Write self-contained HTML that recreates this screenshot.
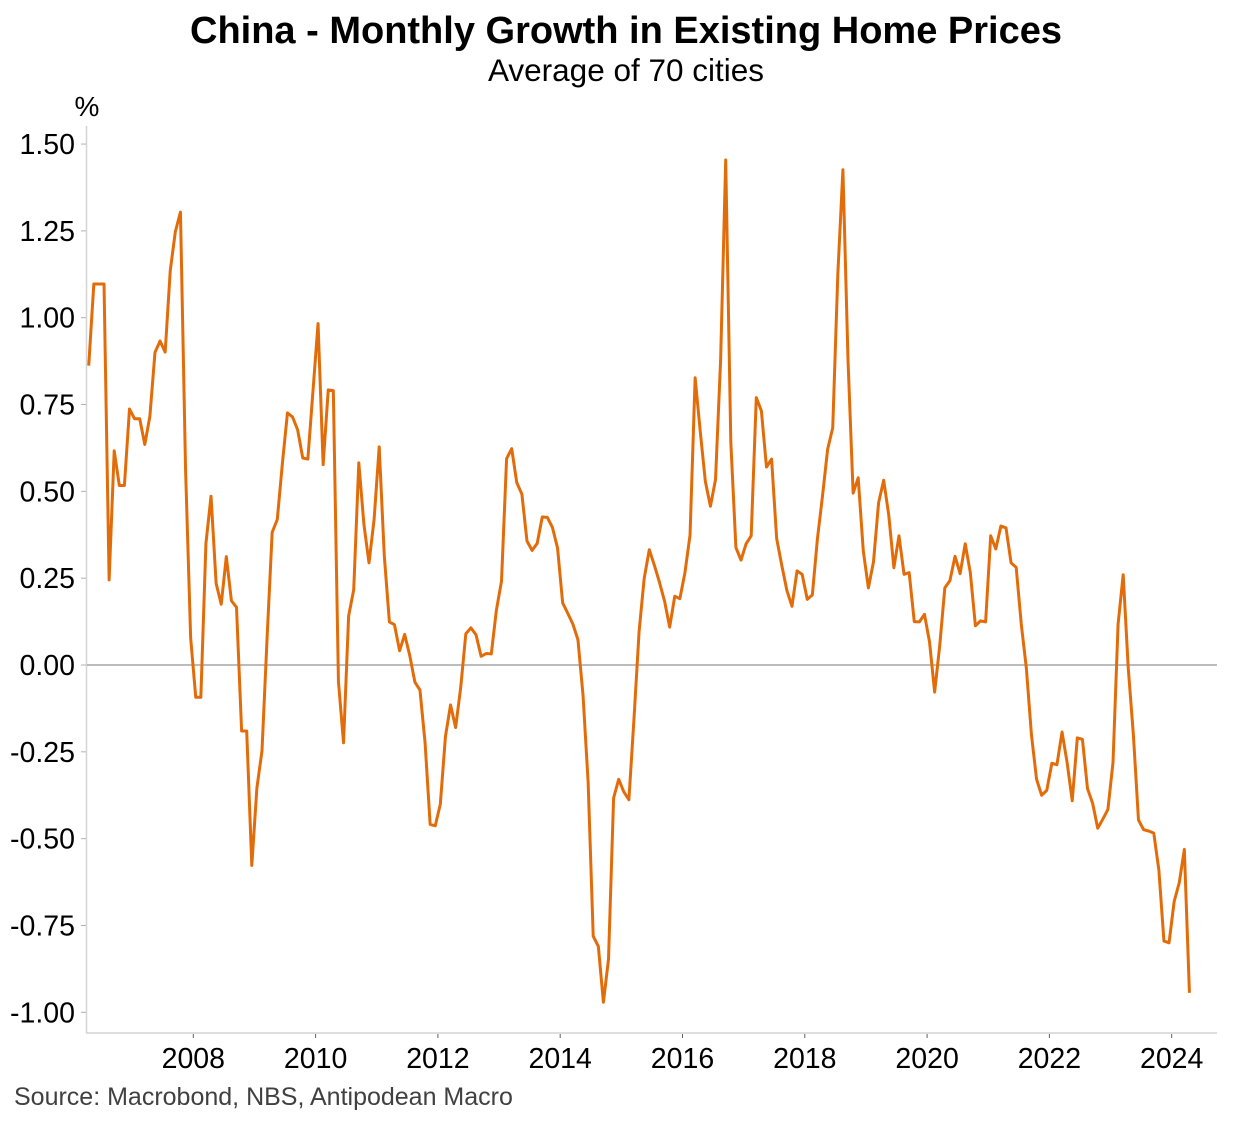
<!DOCTYPE html>
<html><head><meta charset="utf-8">
<style>
body{margin:0;background:#fff;}
svg{display:block;font-family:"Liberation Sans",Arial,sans-serif;}
</style></head>
<body>
<svg id="chart" width="1253" height="1122" viewBox="0 0 1253 1122" xmlns="http://www.w3.org/2000/svg">
<text x="626" y="43" text-anchor="middle" font-size="38" font-weight="bold" fill="#000">China - Monthly Growth in Existing Home Prices</text>
<text x="626" y="81" text-anchor="middle" font-size="31.5" fill="#000">Average of 70 cities</text>
<text x="87" y="116" text-anchor="middle" font-size="28" fill="#000">%</text>
<text x="14" y="1105" font-size="25" fill="#404040">Source: Macrobond, NBS, Antipodean Macro</text>
<g id="axes"></g>
<g id="series"></g>
</svg>
<script>
const yTicks = [1.5,1.25,1.0,0.75,0.5,0.25,0,-0.25,-0.5,-0.75,-1.0];
const yTickLabels = ["1.50","1.25","1.00","0.75","0.50","0.25","0.00","-0.25","-0.50","-0.75","-1.00"];
const xTicks = [2008,2010,2012,2014,2016,2018,2020,2022,2024];
const startYear = 2006.29;
const values = [
0.862,1.097,1.097,1.097,0.245,0.617,0.517,0.517,0.737,0.709,0.709,0.635,0.716,0.90,0.933,0.901,1.136,1.248,1.304,0.565,
0.078,-0.093,-0.093,0.35,0.486,0.235,0.175,0.312,0.185,0.166,-0.19,-0.19,-0.577,-0.354,-0.247,0.078,0.382,0.419,0.58,0.726,
0.714,0.677,0.596,0.593,0.788,0.983,0.577,0.792,0.79,-0.047,-0.224,0.141,0.217,0.582,0.405,0.294,0.419,0.628,0.315,0.124,
0.116,0.041,0.088,0.027,-0.049,-0.072,-0.223,-0.459,-0.463,-0.40,-0.206,-0.115,-0.18,-0.064,0.09,0.107,0.087,0.025,0.033,0.032,
0.158,0.241,0.594,0.623,0.525,0.492,0.357,0.33,0.35,0.426,0.425,0.396,0.337,0.179,0.149,0.118,0.073,-0.087,-0.337,-0.781,
-0.81,-0.971,-0.847,-0.383,-0.329,-0.365,-0.388,-0.155,0.096,0.249,0.332,0.287,0.238,0.184,0.109,0.198,0.191,0.266,0.374,0.827,
0.673,0.529,0.457,0.534,0.878,1.454,0.642,0.338,0.302,0.349,0.372,0.77,0.732,0.57,0.593,0.364,0.287,0.215,0.169,0.271,
0.261,0.189,0.202,0.364,0.487,0.621,0.683,1.125,1.426,0.878,0.495,0.539,0.328,0.222,0.297,0.467,0.532,0.431,0.28,0.372,
0.261,0.266,0.125,0.124,0.146,0.066,-0.078,0.056,0.222,0.243,0.313,0.263,0.349,0.266,0.113,0.127,0.124,0.372,0.334,0.40,
0.395,0.294,0.281,0.118,-0.01,-0.201,-0.329,-0.375,-0.361,-0.283,-0.287,-0.193,-0.281,-0.391,-0.21,-0.214,-0.356,-0.398,-0.47,-0.444,
-0.416,-0.281,0.118,0.26,-0.01,-0.201,-0.446,-0.474,-0.478,-0.484,-0.59,-0.795,-0.80,-0.681,-0.627,-0.531,-0.944
];
const NS="http://www.w3.org/2000/svg";
const yPx = v => 665 - v*347.3;
const xPx = yr => 193.3 + (yr-2008)*61.15;
const axes=document.getElementById('axes');
function mk(tag,attrs,parent){const e=document.createElementNS(NS,tag);for(const k in attrs)e.setAttribute(k,attrs[k]);parent.appendChild(e);return e;}
let yl=mk('line',{x1:86.5,y1:126,x2:86.5,y2:1033,stroke:'#d4d4d4','stroke-width':1.5},axes);


let xl=mk('line',{x1:86,y1:1033,x2:1217,y2:1033,stroke:'#d4d4d4','stroke-width':1.5},axes);


let zl=mk('line',{x1:87,y1:yPx(0),x2:1217,y2:yPx(0),stroke:'#7a7a7a','stroke-width':1},axes);


yTicks.forEach((t,i)=>{
  const y=yPx(t);
  const tk=mk('line',{x1:81,y1:y,x2:86,y2:y,stroke:'#b0b0b0','stroke-width':1},axes);
  
  
  const tx=mk('text',{x:75,y:y+10,'text-anchor':'end','font-size':28.5,fill:'#000'},axes);
  tx.textContent=yTickLabels[i];
  
  
});
xTicks.forEach(t=>{
  const x=xPx(t);
  const tk=mk('line',{x1:x,y1:1034,x2:x,y2:1038,stroke:'#606060','stroke-width':1},axes);
  
  
  const tx=mk('text',{x:x,y:1068,'text-anchor':'middle','font-size':28.5,fill:'#000'},axes);
  tx.textContent=String(t);
  
  
});
const pts=values.map((v,i)=>xPx(startYear+i/12).toFixed(2)+','+yPx(v).toFixed(2)).join(' ');
const line=mk('polyline',{points:pts,fill:'none',stroke:'#e36c0a','stroke-width':3,'stroke-linejoin':'round'},document.getElementById('series'));


</script>
</body></html>
